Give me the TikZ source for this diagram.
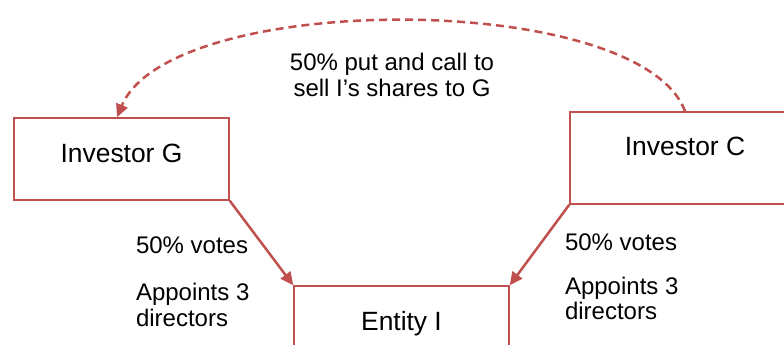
\documentclass[tikz,border=0pt]{standalone}
\usepackage{fontspec}
\setmainfont{Liberation Sans}
\usetikzlibrary{arrows.meta}
\definecolor{linkred}{RGB}{192,80,77}

\begin{document}
\begin{tikzpicture}[x=1pt, y=-1pt,
        party/.style={draw=linkred, line width=1.5pt, minimum width=215pt, minimum height=82pt,
            text depth=12pt, font=\fontsize{26.4}{30}\selectfont},
        note/.style={align=left, anchor=west, font=\fontsize{24}{25.5}\selectfont},
        owns/.style={-{Triangle[length=13pt,width=12pt]}, line width=2.5pt, linkred}]
        \useasboundingbox (0,0) rectangle (784,345);

        \node[party] (G) at (121.5,159) {Investor G};
        \node[party, minimum width=230pt, minimum height=92pt, text depth=24pt] (C) at (685,158) {Investor C};
        \node[party] (I) at (401.5,327) {Entity I};

        \draw[owns] (G.south east) -- (I.north west);
        \draw[owns] (C.south west) -- (I.north east);
        \draw[owns, dash pattern=on 8pt off 5pt] (C.north) .. controls (640,-10) and (170,-10) .. ([xshift=-4.5pt]G.north);

        \node[align=center, font=\fontsize{24}{26}\selectfont] (put) at (392,75) {50\% put and call to\\sell I’s shares to G};
        \node[note] (gvotes) at (132.5,245) {50\% votes};
        \node[note] (gdirs) at (132.5,305) {Appoints 3\\directors};
        \node[note] (cvotes) at (561.5,242) {50\% votes};
        \node[note] (cdirs) at (561.5,298.5) {Appoints 3\\directors};
    \end{tikzpicture}
\end{document}
